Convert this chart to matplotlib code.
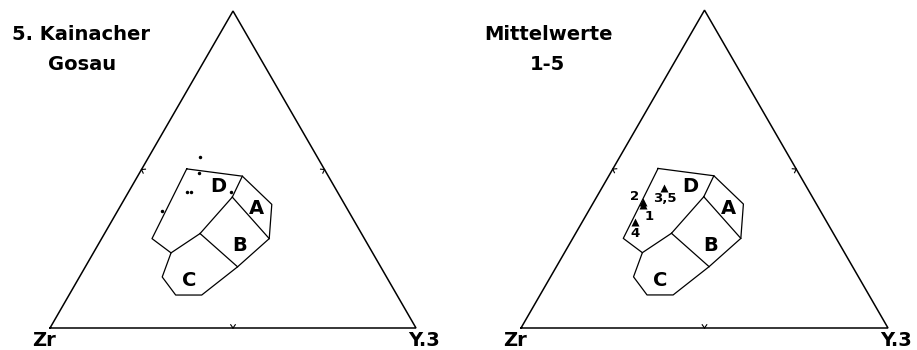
import numpy as np
import matplotlib
matplotlib.use("Agg")
import matplotlib.pyplot as plt

# ---------------- data (ternary fractions: Ti/100, Zr, Y*3) ----------------
# Field outline vertices (Ti, Y); Zr = 1 - Ti - Y
outline_ti = [0.502, 0.479, 0.390, 0.282, 0.193, 0.104, 0.104, 0.161, 0.237, 0.282, 0.502]
outline_y  = [0.1225, 0.286, 0.411, 0.458, 0.416, 0.3625, 0.2914, 0.2261, 0.2122, 0.1377, 0.1225]
# internal field boundaries (each a polyline: Ti list, Y list)
bound_DA_ti, bound_DA_y = [0.479, 0.413], [0.286, 0.2916]
bound_AB_ti, bound_AB_y = [0.413, 0.282], [0.2916, 0.458]
bound_DB_ti, bound_DB_y = [0.413, 0.298], [0.2916, 0.261]
bound_CB_ti, bound_CB_y = [0.298, 0.193], [0.261, 0.416]
bound_CD_ti, bound_CD_y = [0.237, 0.298], [0.2122, 0.261]
field_names = ["A", "B", "C", "D"]
field_lab_ti = [0.376, 0.261, 0.151, 0.4465]
field_lab_y = [0.377, 0.387, 0.305, 0.237]

# Panel 1: 5. Kainacher Gosau (single analyses)
kain_ti = [0.539, 0.488, 0.429, 0.429, 0.369, 0.429]
kain_y  = [0.1403, 0.163, 0.1607, 0.1707, 0.1207, 0.280]

# Panel 2: Mittelwerte 1-5
mean_labels = ["1", "2", "3,5", "4"]
mean_ti = [0.387, 0.395, 0.4416, 0.333]
mean_y  = [0.1395, 0.1357, 0.1675, 0.1442]

titles = [["5. Kainacher", "Gosau"], ["Mittelwerte", "1-5"]]
vertex_labels = ["Zr", "Y.3"]

FONT = "DejaVu Sans"
H = np.sqrt(3) / 2


def tern(ti, y):
    ti = np.asarray(ti, float)
    y = np.asarray(y, float)
    return y + ti / 2.0, ti * H


fig = plt.figure(figsize=(9.17, 3.5), dpi=100)

# pixel geometry of the two triangles (Zr-vertex x, y baseline, side length)
panels = [dict(left=0, width=458, zx=50, base=328, side=366),
          dict(left=458, width=459, zx=521, base=328, side=367)]


def draw_frame(ax, side):
    vx, vy = tern([0, 0, 1, 0], [0, 1, 0, 0])
    ax.plot(vx, vy, color="black", lw=1.1, solid_joinstyle="miter")
    # small chevron ticks at side midpoints
    L = 4.0 / side
    mids = [((0.5, 0.0), (0, 1)), ((0.25, H / 2), (np.cos(np.radians(-30)), np.sin(np.radians(-30)))),
            ((0.75, H / 2), (np.cos(np.radians(210)), np.sin(np.radians(210))))]
    for (mx, my), (nx, ny) in mids:
        ang = np.arctan2(ny, nx)
        for d in (np.radians(35), -np.radians(35)):
            ax.plot([mx, mx + L * np.cos(ang + d)], [my, my + L * np.sin(ang + d)],
                    color="black", lw=0.8)


def draw_fields(ax):
    x, y = tern(outline_ti, outline_y)
    ax.plot(x, y, color="black", lw=0.9)
    for bt, by in [(bound_DA_ti, bound_DA_y), (bound_AB_ti, bound_AB_y),
                   (bound_DB_ti, bound_DB_y), (bound_CB_ti, bound_CB_y),
                   (bound_CD_ti, bound_CD_y)]:
        bx, byy = tern(bt, by)
        ax.plot(bx, byy, color="black", lw=0.9)
    lx, ly = tern(field_lab_ti, field_lab_y)
    for name, a, b in zip(field_names, lx, ly):
        ax.text(a, b, name, ha="center", va="center", fontsize=14,
                fontweight="bold", family=FONT)


axes = []
for p in panels:
    ax = fig.add_axes([p["left"] / 917, 0, p["width"] / 917, 1])
    s = p["side"]
    ax.set_xlim((p["left"] - p["zx"]) / s, (p["left"] + p["width"] - p["zx"]) / s)
    ax.set_ylim((p["base"] - 350) / s, p["base"] / s)
    ax.axis("off")
    draw_frame(ax, s)
    draw_fields(ax)
    axes.append(ax)

# Panel 1 points
kx, ky = tern(kain_ti, kain_y)
axes[0].plot(kx, ky, "o", color="black", ms=2.5, mec="none")

# Panel 2 points
mx, my = tern(mean_ti, mean_y)
axes[1].plot(mx, my, "^", color="black", ms=5.5, mec="none")
offsets = {"1": (4, -8), "2": (-6, 4), "3,5": (1, -8), "4": (0, -8.5)}
for lab, a, b in zip(mean_labels, mx, my):
    axes[1].annotate(lab, (a, b), xytext=offsets[lab], textcoords="offset points",
                     ha="center", va="center", fontsize=9.5, fontweight="bold", family=FONT)

# titles and vertex labels
title_pos = [[(81, 34), (82, 65)], [(548, 34), (547, 65)]]
for ti_lines, pos in zip(titles, title_pos):
    for line, (px, py) in zip(ti_lines, pos):
        fig.text(px / 917, 1 - py / 350, line, ha="center", va="center",
                 fontsize=14, fontweight="bold", family=FONT)

for p in panels:
    s = p["side"]
    zx = p["zx"]
    fig.text((zx - 6) / 917, 1 - 340 / 350, vertex_labels[0], ha="center", va="center",
             fontsize=14, fontweight="bold", family=FONT)
    fig.text((zx + s + 8) / 917, 1 - 340 / 350, vertex_labels[1], ha="center", va="center",
             fontsize=14, fontweight="bold", family=FONT)

fig.savefig("out.png", dpi=100, facecolor="white")
